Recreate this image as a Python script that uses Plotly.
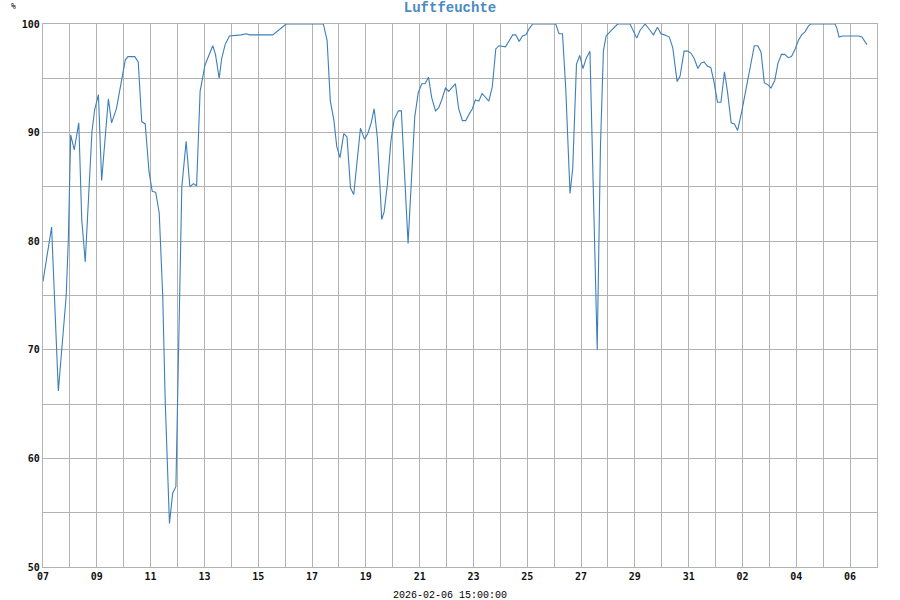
import pandas as pd
import plotly.graph_objects as go

# Days since 2026-01-07 00:00 and relative humidity (%)
day_offsets = [
    0.00, 0.32, 0.57, 0.69, 0.86, 0.94, 1.03, 1.16, 1.33, 1.44, 1.57, 1.82, 1.92, 2.06, 2.18,
    2.43, 2.55, 2.73, 2.95, 3.06, 3.16, 3.41, 3.54, 3.67, 3.80, 3.94, 4.06, 4.19, 4.32, 4.45,
    4.54, 4.70, 4.82, 4.94, 5.02, 5.16, 5.32, 5.46, 5.59, 5.71, 5.84, 6.02, 6.31, 6.41, 6.55,
    6.64, 6.77, 6.93, 7.36, 7.55, 7.67, 8.54, 9.04, 10.42, 10.56, 10.68, 10.81, 10.92, 11.04,
    11.18, 11.30, 11.43, 11.55, 11.80, 11.95, 12.07, 12.20, 12.31, 12.43, 12.59, 12.68, 12.80,
    12.93, 13.05, 13.21, 13.32, 13.57, 13.69, 13.82, 13.95, 14.08, 14.20, 14.33, 14.45, 14.59,
    14.71, 14.82, 14.96, 15.08, 15.33, 15.45, 15.59, 15.71, 15.84, 15.96, 16.07, 16.20, 16.32,
    16.45, 16.57, 16.70, 16.83, 16.95, 17.19, 17.34, 17.46, 17.57, 17.70, 17.82, 17.95, 18.08,
    18.20, 19.06, 19.18, 19.31, 19.43, 19.53, 19.59, 19.69, 19.83, 19.95, 20.07, 20.20, 20.33,
    20.60, 20.72, 20.83, 20.93, 21.08, 21.20, 21.36, 21.82, 21.95, 22.07, 22.19, 22.38, 22.57,
    22.69, 22.84, 22.97, 23.10, 23.28, 23.41, 23.49, 23.57, 23.68, 23.83, 23.97, 24.09, 24.21,
    24.34, 24.46, 24.57, 24.70, 24.82, 24.94, 25.07, 25.20, 25.33, 25.44, 25.58, 25.70, 25.82,
    25.97, 26.22, 26.44, 26.57, 26.69, 26.81, 26.95, 27.06, 27.20, 27.32, 27.45, 27.57, 27.70,
    27.82, 27.96, 28.08, 28.20, 28.33, 28.45, 28.54, 29.44, 29.51, 29.59, 29.72, 30.31, 30.44,
    30.625,
]
humidity = [
    76.3, 81.3, 66.2, 70.0, 74.9, 80.0, 89.8, 88.4, 90.9, 82.0, 78.1, 90.1, 92.1, 93.5, 85.6,
    93.1, 90.9, 92.2, 95.0, 96.7, 97.0, 97.0, 96.5, 91.0, 90.8, 86.4, 84.6, 84.5, 82.6, 75.0,
    65.5, 54.0, 56.8, 57.4, 67.5, 85.0, 89.2, 85.0, 85.3, 85.1, 93.8, 96.2, 98.0, 97.2, 95.0,
    96.8, 98.1, 98.9, 99.0, 99.1, 99.0, 99.0, 100.0, 100.0, 98.5, 92.9, 91.2, 88.7, 87.7,
    89.9, 89.6, 84.9, 84.3, 90.4, 89.4, 89.9, 90.9, 92.2, 89.5, 82.0, 82.7, 85.2,
    89.2, 91.2, 92.0, 92.0, 79.8, 84.9, 91.5, 93.7, 94.5, 94.5, 95.1, 93.2, 92.0,
    92.3, 93.0, 94.1, 93.8, 94.5, 92.2, 91.1, 91.1, 91.7, 92.2, 93.0, 92.9, 93.6,
    93.2, 92.9, 94.2, 97.7, 98.0, 97.9, 98.5, 99.0, 99.0, 98.4, 98.9, 99.0, 99.6,
    100.0, 100.0, 99.1, 99.1, 94.1, 88.0, 84.4, 86.7, 96.3, 97.1, 95.9, 96.9, 97.5,
    70.0, 88.6, 97.5, 98.9, 99.3, 99.6, 100.0, 100.0, 99.3, 98.7, 99.4, 100.0, 99.4,
    99.0, 99.7, 99.1, 99.0, 98.8, 97.8, 96.2, 94.7, 95.2, 97.5, 97.5, 97.3, 96.8,
    95.9, 96.4, 96.5, 96.1, 96.0, 94.7, 92.8, 92.8, 95.6, 93.8, 90.9, 90.8, 90.2,
    91.9, 95.2, 98.0, 98.0, 97.4, 94.6, 94.4, 94.1, 94.8, 96.4, 97.2, 97.2, 96.9,
    97.0, 97.7, 98.5, 99.0, 99.3, 99.8, 100.0, 100.0, 99.6, 98.8, 98.9, 98.9, 98.8,
    98.1,
]

start = pd.Timestamp("2026-01-07 00:00")
times = [start + pd.Timedelta(days=d) for d in day_offsets]

title_text = "Luftfeuchte"
y_unit = "%"
timestamp_label = "2026-02-06 15:00:00"

grid_color = "#b2b2b2"
line_color = "#3d7fb9"

fig = go.Figure()
fig.add_trace(go.Scatter(
    x=times, y=humidity, mode="lines",
    line=dict(color=line_color, width=1.1),
    hoverinfo="x+y", showlegend=False,
))

DAY_MS = 86400000
tick_font = dict(family="DejaVu Sans Mono", size=10, color="#111111", weight="bold")
fig.update_layout(
    width=900, height=600,
    margin=dict(l=43, r=23, t=24, b=33, autoexpand=False),
    paper_bgcolor="white", plot_bgcolor="white",
    title=dict(
        text=title_text, x=0.5, xref="container", xanchor="center",
        y=1 - 7 / 600, yref="container", yanchor="middle",
        font=dict(family="Liberation Mono", size=14, color="#4a8ac4", weight="bold"),
    ),
    xaxis=dict(
        type="date",
        range=["2026-01-07", "2026-02-07"],
        tick0="2026-01-07", dtick=2 * DAY_MS, tickformat="%d",
        showgrid=True, gridcolor=grid_color, gridwidth=1.4,
        minor=dict(dtick=DAY_MS, showgrid=True, gridcolor=grid_color, gridwidth=1.4, tick0="2026-01-07"),
        showline=True, linecolor=grid_color, linewidth=1.4, mirror=True,
        zeroline=False, ticks="", ticklabelstandoff=0,
        tickfont=tick_font,
    ),
    yaxis=dict(
        range=[50, 100], dtick=10, tick0=50,
        showgrid=True, gridcolor=grid_color, gridwidth=1.4,
        minor=dict(dtick=5, showgrid=True, gridcolor=grid_color, gridwidth=1.4),
        showline=True, linecolor=grid_color, linewidth=1.4, mirror=True,
        zeroline=False, ticks="",
        tickfont=tick_font,
    ),
    annotations=[
        dict(text=y_unit, xref="paper", yref="paper", x=0, y=1, xshift=-30, yshift=18,
             showarrow=False, xanchor="center", yanchor="middle",
             font=dict(family="DejaVu Sans Mono", size=8, color="black")),
        dict(text=timestamp_label, xref="paper", yref="paper", x=0.5, y=0, yshift=-28,
             showarrow=False, xanchor="center", yanchor="middle",
             xshift=450 - (43 + 834 / 2),
             font=dict(family="Liberation Mono", size=10, color="black")),
    ],
)

fig.write_html(
    "out.html",
    config={"displayModeBar": False},
    post_script="document.body.style.margin='0px';document.body.style.overflow='hidden';",
)
